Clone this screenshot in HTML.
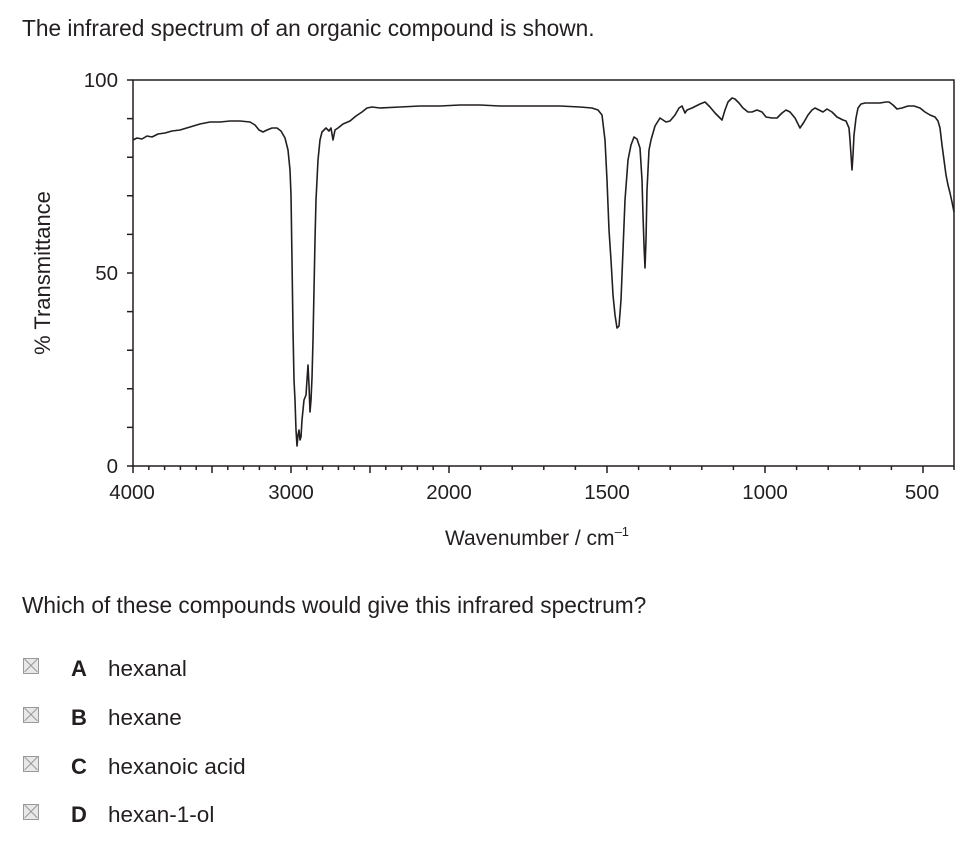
<!DOCTYPE html>
<html><head><meta charset="utf-8"><style>
body{margin:0;background:#fff;width:976px;height:841px;position:relative;font-family:"Liberation Sans","DejaVu Sans",sans-serif;color:#231f20;overflow:hidden}
.t{position:absolute;white-space:nowrap;font-size:22.7px}
.cb{position:absolute;left:23px;width:14px;height:14px;border:1px solid #999;background:#e8e8e8}
.cb:before,.cb:after{content:"";position:absolute;left:-2px;top:6px;width:18px;height:1px;background:#999;transform:rotate(45deg)}
.cb:after{transform:rotate(-45deg)}
.l{position:absolute;left:71px;font-weight:bold;font-size:22px}
.o{position:absolute;left:108px;font-size:22.5px}
</style></head><body>
<div class="t" style="left:22px;top:15px">The infrared spectrum of an organic compound is shown.</div>
<svg width="976" height="841" style="position:absolute;left:0;top:0" font-family="Liberation Sans, sans-serif">
<g stroke="#231f20" stroke-width="1.5" fill="none">
<path d="M133,80 H954 V466 H133 Z"/>
<path d="M127,80H133M127,118.6H133M127,157.2H133M127,195.8H133M127,234.4H133M127,273H133M127,311.6H133M127,350.2H133M127,388.8H133M127,427.4H133M127,466H133"/>
<path d="M133,466v7M148.8,466v4M164.6,466v4M180.4,466v4M196.2,466v4M212,466v7M227.8,466v4M243.6,466v4M259.4,466v4M275.2,466v4M291,466v7M306.8,466v4M322.6,466v4M338.4,466v4M354.2,466v4M370,466v7M385.8,466v4M401.6,466v4M417.4,466v4M433.2,466v4M449,466v7M480.6,466v4M512.2,466v4M543.8,466v4M575.4,466v4M607,466v7M638.6,466v4M670.2,466v4M701.8,466v4M733.4,466v4M765,466v7M796.6,466v4M828.2,466v4M859.8,466v4M891.4,466v4M923,466v7M954,466v4"/>
</g>
<polyline fill="none" stroke="#231f20" stroke-width="1.6" stroke-linejoin="round" points="133,140 137,138 142,139 147,136 152,137 158,134 165,133 172,131 180,130 190,127 200,124 210,122 220,122 230,121 240,121 250,122 255,125 259,130 263,132 267,130 272,128 277,128 281,131 285,138 288,150 290,170 291,195 292,260 293,330 294,380 295,400 296,430 297,446 298,435 299,430 300,440 301,437 302,420 304,400 306,395 308,365 309,385 310,412 311,400 312,378 313,340 314,290 315,240 316,200 318,160 320,140 322,132 326,128 329,131 331,128 333,140 335,130 338,128 343,124 350,121 356,116 362,112 367,108 372,107 380,108 400,107 420,106 440,106 460,105 480,105 500,106 520,106 540,106 560,106 580,107 592,108 598,110 602,115 605,140 607,180 609,230 611,260 613,295 615,315 617,328 619,326 621,300 623,250 625,200 628,160 631,145 634,137 637,139 640,148 642,180 643,215 644,245 645,268 646,240 647,190 649,150 651,140 655,126 660,118 666,122 670,121 675,115 679,108 682,106 685,113 687,110 692,108 700,104 705,102 710,107 715,113 720,118 722,120 725,110 728,102 732,98 735,99 739,103 743,108 748,112 752,112 757,110 762,112 766,117 772,118 777,118 782,113 786,110 790,112 795,118 798,124 800,128 804,122 808,115 812,110 815,108 819,110 823,112 827,109 832,112 837,117 843,120 846,121 849,128 850,140 851,155 852,170 853,155 854,135 856,118 858,108 861,104 865,103 872,103 880,103 886,102 889,102 893,105 897,109 902,108 908,106 914,106 920,108 925,112 930,115 935,117 938,121 940,128 942,145 944,160 946,175 948,185 950,193 952,202 954,212"/>
<g font-size="20.5" fill="#231f20">
<text x="118" y="87" text-anchor="end">100</text>
<text x="118" y="280" text-anchor="end">50</text>
<text x="118" y="473" text-anchor="end">0</text>
<g text-anchor="middle">
<text x="132" y="499">4000</text><text x="291" y="499">3000</text><text x="449" y="499">2000</text><text x="607" y="499">1500</text><text x="765" y="499">1000</text><text x="922" y="499">500</text>
</g>
<text x="537" y="545" text-anchor="middle" font-size="21">Wavenumber / cm<tspan dy="-9" font-size="13">–1</tspan></text>
<text transform="translate(50,273) rotate(-90)" text-anchor="middle" font-size="22">% Transmittance</text>
</g>
</svg>
<div class="t" style="left:22px;top:592px">Which of these compounds would give this infrared spectrum?</div>
<div class="cb" style="top:658px"></div><div class="l" style="top:656px">A</div><div class="o" style="top:656px">hexanal</div>
<div class="cb" style="top:707px"></div><div class="l" style="top:705px">B</div><div class="o" style="top:705px">hexane</div>
<div class="cb" style="top:756px"></div><div class="l" style="top:754px">C</div><div class="o" style="top:754px">hexanoic acid</div>
<div class="cb" style="top:804px"></div><div class="l" style="top:802px">D</div><div class="o" style="top:802px">hexan-1-ol</div>
</body></html>
